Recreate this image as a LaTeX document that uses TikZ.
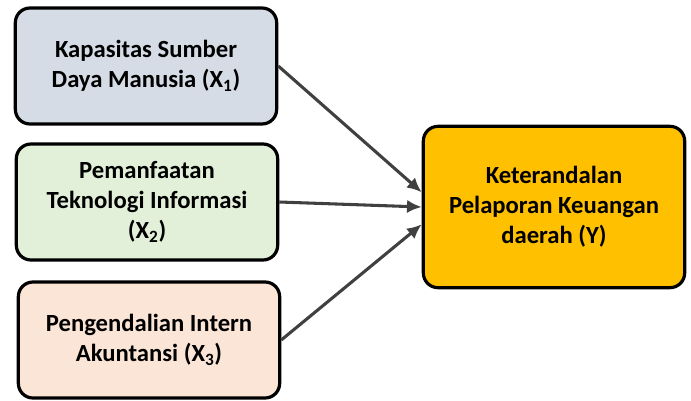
\documentclass[tikz,border=0pt]{standalone}
\usepackage{fontspec}
\setmainfont{Carlito}
\usepackage{xcolor}
\usetikzlibrary{arrows.meta,positioning}

\definecolor{boxblue}{HTML}{D6DCE5}
\definecolor{boxgreen}{HTML}{E2F0D9}
\definecolor{boxpeach}{HTML}{FBE5D6}
\definecolor{boxgold}{HTML}{FFC000}
\definecolor{arrowgray}{HTML}{404040}

\tikzset{
  varbox/.style={draw=black,line width=2.4pt,rounded corners=11pt,align=center,
    minimum width=196pt,minimum height=87pt,inner sep=2pt,
    font=\fontsize{18.5}{22.5}\selectfont\bfseries},
  link/.style={draw=arrowgray,line width=2.3pt,-{Latex[length=11pt,width=10pt]}}
}

\begin{document}
\begin{tikzpicture}[x=0.75pt,y=-0.75pt]
  \useasboundingbox (0,0) rectangle (691,400);
  \node[varbox,fill=boxblue] (x1) at (146,66) {Kapasitas Sumber\\Daya Manusia (X\textsubscript{1})};
  \node[varbox,fill=boxgreen] (x2) at (147,202) {Pemanfaatan\\Teknologi Informasi\\(X\textsubscript{2})};
  \node[varbox,fill=boxpeach] (x3) at (149,340) {Pengendalian Intern\\Akuntansi (X\textsubscript{3})};
  \node[varbox,fill=boxgold,minimum height=121pt] (y) at (554,207) {Keterandalan\\Pelaporan Keuangan\\daerah (Y)};
  \draw[link] (x1.east) -- ([yshift=11pt]y.west);
  \draw[link] (x2.east) -- (y.west);
  \draw[link] (x3.east) -- ([yshift=-13pt]y.west);
\end{tikzpicture}
\end{document}
